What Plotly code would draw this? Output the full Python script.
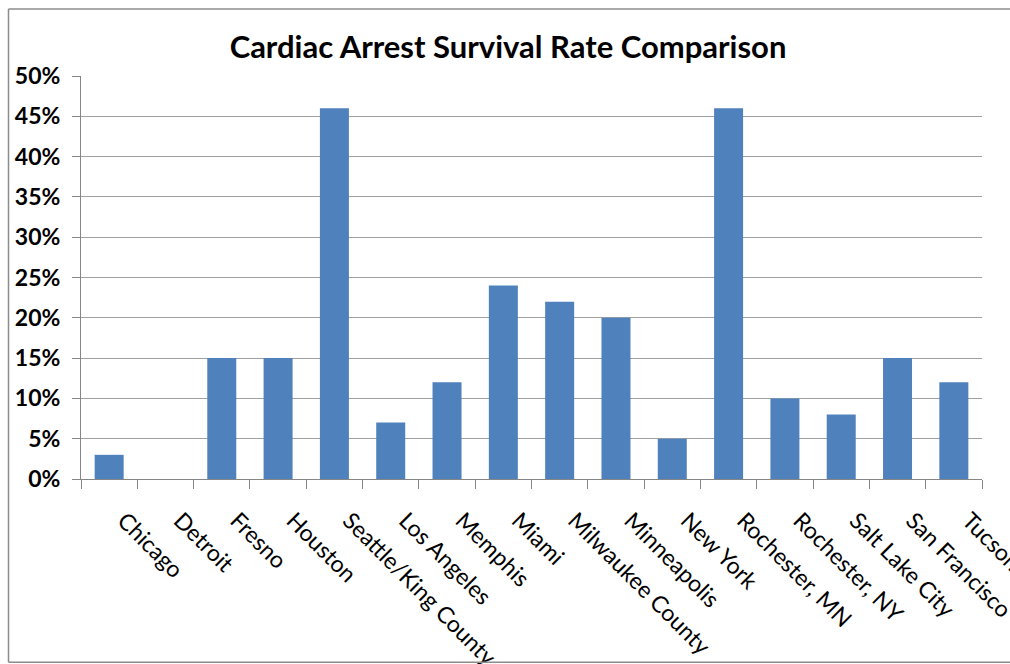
import plotly.graph_objects as go

cities = ["Chicago", "Detroit", "Fresno", "Houston", "Seattle/King County", "Los Angeles",
          "Memphis", "Miami", "Milwaukee County", "Minneapolis", "New York", "Rochester, MN",
          "Rochester, NY", "Salt Lake City", "San Francisco", "Tucson"]
survival = [0.03, 0.0, 0.15, 0.15, 0.46, 0.07, 0.12, 0.24, 0.22, 0.20, 0.05, 0.46,
            0.10, 0.08, 0.15, 0.12]
y_ticks = [0, 0.05, 0.10, 0.15, 0.20, 0.25, 0.30, 0.35, 0.40, 0.45, 0.50]

W, H = 1010, 664
L, R, T, B = 81, 28, 76, 184.5
pw, ph = W - L - R, H - T - B

fig = go.Figure(go.Bar(x=cities, y=survival, marker=dict(color="#4F81BD", line=dict(width=0))))

bx0, bx1 = (8.5 - L) / pw, (W + 5 - L) / pw
by0, by1 = (H - B - 663) / ph, (H - B - 9) / ph
border = dict(color="#8c8c8c", width=1.5)

fig.update_layout(
    width=W, height=H,
    margin=dict(l=L, r=R, t=T, b=B, pad=0, autoexpand=False),
    plot_bgcolor="white", paper_bgcolor="white",
    bargap=0.485,
    showlegend=False,
    font=dict(family="Lato", color="black"),
    title=dict(text="<b>Cardiac Arrest Survival Rate Comparison</b>", x=508 / W, xanchor="center",
               xref="container", y=1 - 47 / H, yanchor="middle", font=dict(size=31, family="Lato")),
    xaxis=dict(
        automargin=False,
        showline=True, linecolor="#868686", linewidth=1,
        ticks="outside", tickson="boundaries", ticklen=9, tickcolor="#868686",
        tickangle=45, tickfont=dict(size=23, family="Lato"),
        ticklabelstandoff=18, ticklabelshift=15,
        showgrid=False,
    ),
    yaxis=dict(
        automargin=False,
        range=[0, 0.5], tickvals=y_ticks, tickformat=".0%",
        showline=True, linecolor="#868686", linewidth=1,
        ticks="outside", ticklen=8, tickcolor="#868686",
        showgrid=True, gridcolor="#a0a0a0", gridwidth=1,
        tickfont=dict(size=23, family="Lato", weight="bold"),
        ticklabelstandoff=7, zeroline=False,
    ),
    shapes=[
        dict(type="line", xref="paper", yref="paper", x0=bx0, x1=bx0, y0=by0, y1=by1, line=border),
        dict(type="line", xref="paper", yref="paper", x0=bx0, x1=bx1, y0=by1, y1=by1, line=border),
        dict(type="line", xref="paper", yref="paper", x0=bx0, x1=bx1, y0=by0, y1=by0, line=border),
    ],
)

fig.write_html(
    "out.html",
    config={"displayModeBar": False},
    post_script="document.body.style.margin='0';document.body.style.overflow='hidden';"
                "document.documentElement.style.overflow='hidden';",
)
